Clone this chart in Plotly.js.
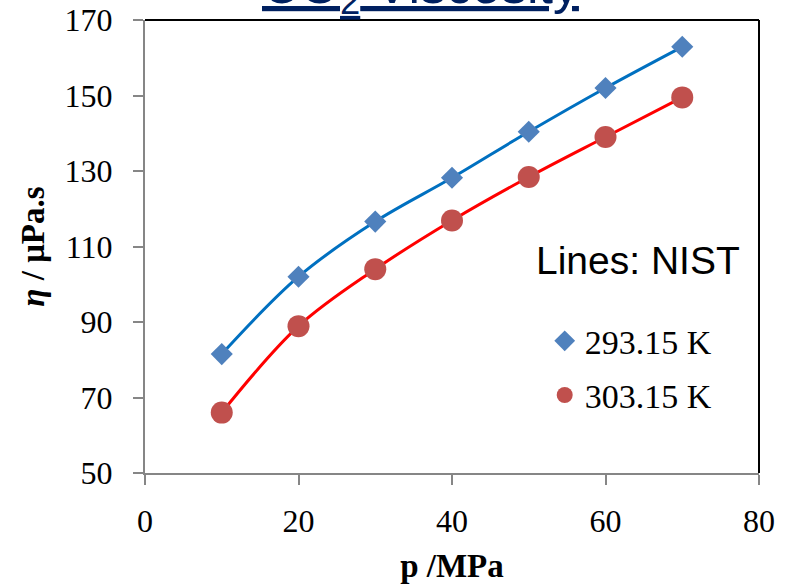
<!DOCTYPE html>
<html>
<head>
<meta charset="utf-8">
<script src="https://cdn.plot.ly/plotly-3.0.1.min.js"></script>
<style>html,body{margin:0;padding:0;background:#fff;}#chart{width:787px;height:584px;}</style>
</head>
<body>
<div id="chart"></div>
<script>
// Data
const pressure = [10, 20, 30, 40, 50, 60, 70];            // p / MPa
const visc293 = [81.5, 102.0, 116.6, 128.2, 140.4, 152.0, 162.9]; // 293.15 K
const visc303 = [66.0, 88.9, 104.0, 116.9, 128.4, 139.0, 149.5];  // 303.15 K
const seriesNames = ['293.15 K', '303.15 K'];
const xTicks = [0, 20, 40, 60, 80];
const yTicks = [50, 70, 90, 110, 130, 150, 170];

const serif = 'Liberation Serif, Times New Roman, serif';
const sans = 'Liberation Sans, Arial, sans-serif';

const traces = [
  {x: pressure, y: visc293, mode: 'lines', line: {color: '#0070C0', width: 3, shape: 'spline'},
   showlegend: false, hoverinfo: 'skip'},
  {x: pressure, y: visc303, mode: 'lines', line: {color: '#FF0000', width: 3, shape: 'spline'},
   showlegend: false, hoverinfo: 'skip'},
  {x: pressure, y: visc293, mode: 'markers', name: seriesNames[0], legendgroup: 'a',
   marker: {symbol: 'diamond', size: 17, color: '#4F81BD'}},
  {x: pressure, y: visc303, mode: 'markers', name: seriesNames[1], legendgroup: 'b',
   marker: {symbol: 'circle', size: 22, color: '#C0504D'}}
];

const layout = {
  width: 787, height: 584,
  margin: {l: 145, r: 28, t: 20, b: 111, pad: 0},
  paper_bgcolor: '#ffffff', plot_bgcolor: '#ffffff',
  showlegend: true,
  legend: {x: 0.651, y: 0.355, xanchor: 'left', yanchor: 'top', bgcolor: 'rgba(0,0,0,0)',
           font: {family: serif, size: 34, color: '#000'}, tracegroupgap: 7,
           traceorder: 'grouped', itemwidth: 30},
  xaxis: {range: [0, 80], tickvals: xTicks, ticks: 'outside', ticklen: 10, tickwidth: 2,
          tickcolor: '#868686', showline: true, linecolor: '#868686', linewidth: 2,
          showgrid: false, zeroline: false, ticklabelstandoff: 9,
          tickfont: {family: serif, size: 32, color: '#000'},
          title: {text: '<b>p /MPa</b>', font: {family: serif, size: 33, color: '#000'}, standoff: 20}},
  yaxis: {range: [50, 170], tickvals: yTicks, ticks: 'outside', ticklen: 10, tickwidth: 2,
          tickcolor: '#868686', showline: true, linecolor: '#868686', linewidth: 2,
          showgrid: false, zeroline: false, ticklabelstandoff: 14,
          tickfont: {family: serif, size: 32, color: '#000'},
          title: {text: '<b><i>η</i> / μPa.s</b>', font: {family: serif, size: 33, color: '#000'}, standoff: 10}},
  shapes: [
    {type: 'line', xref: 'paper', yref: 'paper', x0: 0, x1: 1, y0: 1, y1: 1, line: {color: '#000', width: 2}},
    {type: 'line', xref: 'paper', yref: 'paper', x0: 1, x1: 1, y0: 0, y1: 1, line: {color: '#000', width: 2}}
  ],
  annotations: [
    {xref: 'paper', yref: 'paper', x: 0.803, y: 0.47, xanchor: 'center', yanchor: 'middle', showarrow: false,
     text: 'Lines: NIST', font: {family: sans, size: 39, color: '#000'}},
    {xref: 'paper', yref: 'paper', x: 0.448, y: 0.992, xanchor: 'center', yanchor: 'bottom', showarrow: false,
     text: '<u>CO<sub>2</sub> Viscosity</u>', font: {family: sans, size: 52, color: '#002060'}}
  ]
};

Plotly.newPlot('chart', traces, layout, {displayModeBar: false, staticPlot: true});
</script>
</body>
</html>
